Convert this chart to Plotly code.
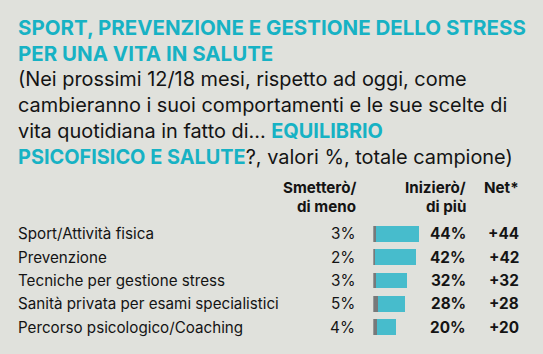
import plotly.graph_objects as go

categories = ["Sport/Attività fisica", "Prevenzione", "Tecniche per gestione stress",
              "Sanità privata per esami specialistici", "Percorso psicologico/Coaching"]
smettero = [3, 2, 3, 5, 4]
iniziero = [44, 42, 32, 28, 20]
net = [44, 42, 32, 28, 20]

W, H = 543, 354
TEAL_TXT = "#17b2c4"
TEAL_BAR = "#47bccc"
GRAY_BAR = "#77797a"
BG = "#e0e1dc"
INK = "#141414"
FONT = "Inter"

def px(x):
    return x / W

def py(y):
    return 1 - y / H

fig = go.Figure()
fig.add_trace(go.Bar(y=categories, x=smettero, orientation="h", marker=dict(color=GRAY_BAR, line=dict(width=0)),
                     width=0.68, hoverinfo="skip"))
fig.add_trace(go.Bar(y=categories, x=iniziero, orientation="h", marker=dict(color=TEAL_BAR, line=dict(width=0)),
                     width=0.68, hoverinfo="skip"))

ann = []
# Title
ann.append(dict(text="<b>SPORT, PREVENZIONE E GESTIONE DELLO STRESS</b>", x=px(16), y=py(27),
                font=dict(size=20.5, color=TEAL_TXT)))
ann.append(dict(text="<b>PER UNA VITA IN SALUTE</b>", x=px(16), y=py(53.5),
                font=dict(size=20.5, color=TEAL_TXT)))
sub = ["(Nei prossimi 12/18 mesi, rispetto ad oggi, come",
       "cambieranno i suoi comportamenti e le sue scelte di",
       "vita quotidiana in fatto di... <span style='color:%s'><b>EQUILIBRIO</b></span>" % TEAL_TXT,
       "<span style='color:%s'><b>PSICOFISICO E SALUTE</b></span>?, valori %%, totale campione)" % TEAL_TXT]
sub_y = [78.5, 104.5, 131, 157.5]
for s, yy in zip(sub, sub_y):
    ann.append(dict(text=s, x=px(16), y=py(yy), font=dict(size=19.9, color=INK)))
for a in ann:
    a.update(xref="paper", yref="paper", xanchor="left", yanchor="middle", showarrow=False)

# Headers
hdr = []
hdr.append(dict(text="<b>Smetterò/</b>", x=px(358), y=py(187)))
hdr.append(dict(text="<b>di meno</b>", x=px(358), y=py(206.5)))
hdr.append(dict(text="<b>Inizierò/</b>", x=px(468), y=py(187)))
hdr.append(dict(text="<b>di più</b>", x=px(468), y=py(206.5)))
hdr.append(dict(text="<b>Net*</b>", x=px(521), y=py(187)))
for a in hdr:
    a.update(xref="paper", yref="paper", xanchor="right", yanchor="middle", showarrow=False,
             font=dict(size=15.2, color=INK))
ann += hdr

rows = []
for c, s, i, n in zip(categories, smettero, iniziero, net):
    rows.append(dict(text=c, x=px(16), y=c, xanchor="left", font=dict(size=15.2, color=INK)))
    rows.append(dict(text=f"{s}%", x=px(357), y=c, xanchor="right", font=dict(size=15.3, color=INK)))
    rows.append(dict(text=f"<b>{i}%</b>", x=px(468), y=c, xanchor="right", font=dict(size=15.3, color=INK)))
    rows.append(dict(text=f"<b>+{n}</b>", x=px(521), y=c, xanchor="right", font=dict(size=15.3, color=INK)))
for a in rows:
    a.update(xref="paper", yref="y", yanchor="middle", showarrow=False)
ann += rows

fig.update_layout(
    width=W, height=H, margin=dict(l=0, r=0, t=0, b=0),
    paper_bgcolor=BG, plot_bgcolor="rgba(0,0,0,0)",
    barmode="stack", showlegend=False, bargap=0,
    font=dict(family=FONT),
    xaxis=dict(domain=[px(373.3), px(373.3 + 48.6)], range=[0, 50], visible=False, fixedrange=True),
    yaxis=dict(domain=[py(339), py(222)], categoryorder="array", categoryarray=categories[::-1],
               range=[-0.5, 4.5], visible=False, fixedrange=True),
    annotations=ann,
)
fig.write_html("out.html")
